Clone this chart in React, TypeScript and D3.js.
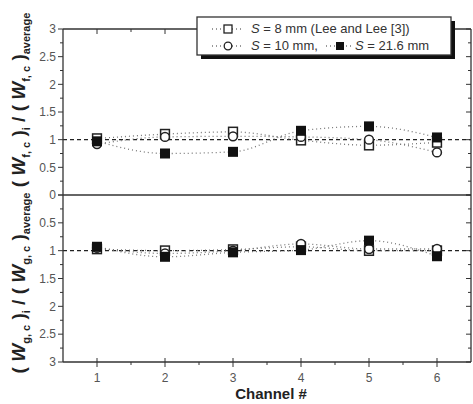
import React from "react";
import * as d3 from "d3";

const channels = [1, 2, 3, 4, 5, 6];
const fS8 = [1.02, 1.1, 1.14, 0.99, 0.9, 0.95];
const fS10 = [0.92, 1.05, 1.06, 1.05, 1.0, 0.77];
const fS216 = [0.97, 0.75, 0.78, 1.16, 1.24, 1.04];
const gS8 = [0.97, 1.0, 0.98, 0.93, 1.0, 1.0];
const gS10 = [0.95, 1.05, 1.0, 0.88, 0.97, 0.97];
const gS216 = [0.93, 1.11, 1.03, 0.99, 0.82, 1.1];
const yTicks = [0, 0.5, 1, 1.5, 2, 2.5, 3];
const yMinor = [0.25, 0.75, 1.25, 1.75, 2.25, 2.75];
const xMinor = [1.5, 2.5, 3.5, 4.5, 5.5];

const W = 473, H = 404;
const L = 63, R = 471, TOP = 29, MID = 195, BOT = 362;
const FONT = "'Liberation Sans', Arial, sans-serif";

export default function App() {
  const x = d3.scaleLinear().domain([0.5, 6.5]).range([L, R]);
  const yT = d3.scaleLinear().domain([0, 3]).range([MID, TOP]);
  const yB = d3.scaleLinear().domain([0, 3]).range([MID, BOT]);
  const line = (ys: number[], y: d3.ScaleLinear<number, number>) =>
    d3.line<number>().x((_, i) => x(channels[i])).y((v) => y(v)).curve(d3.curveMonotoneX)(ys) as string;

  const series = (ys: number[], y: d3.ScaleLinear<number, number>, kind: string, key: string) =>
    ys.map((v, i) => {
      const cx = x(channels[i]), cy = y(v);
      if (kind === "circle")
        return <circle key={key + i} cx={cx} cy={cy} r={4.4} fill="#fff" stroke="#222" strokeWidth={1.5} />;
      if (kind === "open")
        return <rect key={key + i} x={cx - 4.4} y={cy - 4.6} width={8.8} height={9.2} fill="#fff" stroke="#222" strokeWidth={1.5} />;
      return <rect key={key + i} x={cx - 5} y={cy - 5} width={10} height={10} fill="#111" />;
    });

  const panel = (y: d3.ScaleLinear<number, number>, a: number[], b: number[], c: number[], k: string) => (
    <g key={k}>
      <line x1={L} x2={R} y1={y(1)} y2={y(1)} stroke="#222" strokeWidth={1.3} strokeDasharray="4,3" />
      <path d={line(a, y)} fill="none" stroke="#777" strokeWidth={1.3} strokeDasharray="1,3" />
      <path d={line(b, y)} fill="none" stroke="#777" strokeWidth={1.3} strokeDasharray="1,3" />
      <path d={line(c, y)} fill="none" stroke="#777" strokeWidth={1.3} strokeDasharray="1,3" />
      {series(a, y, "open", k + "a")}
      {series(b, y, "circle", k + "b")}
      {series(c, y, "filled", k + "c")}
    </g>
  );

  const axisCol = "#333";
  const tickCol = "#555";

  const yTickMarks = (y: d3.ScaleLinear<number, number>, k: string) => (
    <g key={k}>
      {yTicks.map((t) => (
        <g key={k + "M" + t}>
          <line x1={L - 5} x2={L} y1={y(t)} y2={y(t)} stroke={axisCol} strokeWidth={1} />
          <line x1={R - 5} x2={R} y1={y(t)} y2={y(t)} stroke={axisCol} strokeWidth={1} />
        </g>
      ))}
      {yMinor.map((t) => (
        <g key={k + "m" + t}>
          <line x1={L - 3} x2={L} y1={y(t)} y2={y(t)} stroke={axisCol} strokeWidth={1} />
          <line x1={R - 3} x2={R} y1={y(t)} y2={y(t)} stroke={axisCol} strokeWidth={1} />
        </g>
      ))}
      {yTicks.filter((t) => t !== 0).map((t) => (
        <text key={k + "l" + t} x={L - 7} y={y(t)} dy="0.35em" textAnchor="end" fontSize={12} fill={tickCol} fontFamily={FONT}>
          {String(t)}
        </text>
      ))}
    </g>
  );

  const yTitle = (cy: number, sub: string) => (
    <text transform={`translate(25,${cy}) rotate(-90)`} textAnchor="middle" fontFamily={FONT} fontWeight="bold" fill="#222" fontSize={19}>
      <tspan>( </tspan>
      <tspan fontStyle="italic">W</tspan>
      <tspan fontSize={11} dy={5}>{sub}, c</tspan>
      <tspan dy={-5}> )</tspan>
      <tspan fontSize={11} dy={5}>i</tspan>
      <tspan dy={-5}> / ( </tspan>
      <tspan fontStyle="italic">W</tspan>
      <tspan fontSize={11} dy={5}>{sub}, c</tspan>
      <tspan dy={-5}> )</tspan>
      <tspan fontSize={11} dy={5}>average</tspan>
    </text>
  );

  return (
    <svg width={W} height={H} style={{ position: "absolute", left: 0, top: 0, background: "#fff" }} fontFamily={FONT}>
      <rect width={W} height={H} fill="#fff" />
      {panel(yT, fS8, fS10, fS216, "top")}
      {panel(yB, gS8, gS10, gS216, "bot")}
      <line x1={L} x2={L} y1={TOP} y2={BOT} stroke={axisCol} strokeWidth={1.3} />
      <line x1={R} x2={R} y1={TOP} y2={BOT} stroke={axisCol} strokeWidth={1.3} />
      <line x1={L} x2={R} y1={TOP} y2={TOP} stroke={axisCol} strokeWidth={1.3} />
      <line x1={L} x2={R} y1={MID} y2={MID} stroke={axisCol} strokeWidth={1.5} />
      <line x1={L} x2={R} y1={BOT} y2={BOT} stroke={axisCol} strokeWidth={1.3} />
      {yTickMarks(yT, "t")}
      {yTickMarks(yB, "b")}
      <text x={L - 7} y={MID} dy="0.35em" textAnchor="end" fontSize={12} fill={tickCol}>0</text>
      {channels.map((c) => (
        <g key={"x" + c}>
          <line x1={x(c)} x2={x(c)} y1={BOT - 4} y2={BOT + 5} stroke={axisCol} strokeWidth={1} />
          <line x1={x(c)} x2={x(c)} y1={TOP} y2={TOP + 5} stroke={axisCol} strokeWidth={1} />
          <text x={x(c)} y={BOT + 20} textAnchor="middle" fontSize={12} fill={tickCol}>{c}</text>
        </g>
      ))}
      {xMinor.map((c) => (
        <g key={"xm" + c}>
          <line x1={x(c)} x2={x(c)} y1={BOT} y2={BOT + 3} stroke={axisCol} strokeWidth={1} />
          <line x1={x(c)} x2={x(c)} y1={TOP} y2={TOP + 3} stroke={axisCol} strokeWidth={1} />
        </g>
      ))}
      <text x={271} y={399} textAnchor="middle" fontSize={15} fontWeight="bold" fill="#222">Channel #</text>
      {yTitle(100, "f")}
      {yTitle(283, "g")}
      <g>
        <rect x={201} y={21} width={254} height={38} fill="#111" />
        <rect x={197} y={17} width={254} height={38} fill="#fff" stroke="#333" strokeWidth={1.3} />
        <line x1={212} x2={244} y1={29} y2={29} stroke="#777" strokeWidth={1.3} strokeDasharray="1,3" />
        <rect x={224} y={25} width={8} height={8} fill="#fff" stroke="#222" strokeWidth={1.3} />
        <text x={251} y={33} fontSize={13} fill="#333">
          <tspan fontStyle="italic">S</tspan> = 8 mm (Lee and Lee [3])
        </text>
        <line x1={212} x2={244} y1={46} y2={46} stroke="#777" strokeWidth={1.3} strokeDasharray="1,3" />
        <circle cx={228} cy={46} r={3.8} fill="#fff" stroke="#222" strokeWidth={1.3} />
        <text x={251} y={50} fontSize={13} fill="#333">
          <tspan fontStyle="italic">S</tspan> = 10 mm,
        </text>
        <line x1={326} x2={354} y1={46} y2={46} stroke="#777" strokeWidth={1.3} strokeDasharray="1,3" />
        <rect x={336} y={42} width={8} height={8} fill="#111" />
        <text x={355} y={50} fontSize={13} fill="#333">
          <tspan fontStyle="italic">S</tspan> = 21.6 mm
        </text>
      </g>
    </svg>
  );
}
